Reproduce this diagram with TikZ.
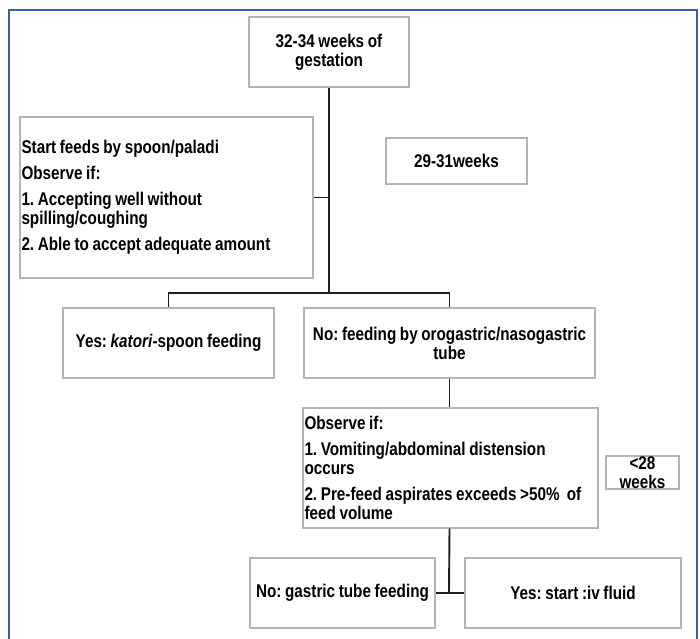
\documentclass[tikz,border=0pt]{standalone}
\usepackage{fontspec}
\setmainfont{Liberation Sans}[FakeStretch=0.83,WordSpace=0.85]
\definecolor{framecol}{HTML}{3B5DAD}
\definecolor{boxcol}{HTML}{B4B4B4}
\definecolor{conncol}{HTML}{1E1E1E}
\frenchspacing
\begin{document}
\begin{tikzpicture}[x=1pt,y=-1pt,
  every node/.style={font=\fontsize{18.4}{19}\selectfont\bfseries},
  box/.style={draw=boxcol,line width=1.1pt,rectangle,inner sep=1pt,align=center},
  lbox/.style={box,align=flush left},
  conn/.style={draw=conncol,line width=1.9pt},
  frame/.style={draw=framecol,line width=1.6pt}]
\useasboundingbox (0,0) rectangle (700,638);
\draw[frame] (9,640) -- (9,10) -- (697,10) -- (697,640);

\node[box,minimum width=160pt,minimum height=70pt] (top) at (329,52) {32-34 weeks of\\gestation};
\node[lbox,minimum width=293pt,minimum height=161pt,text width=290pt] (left) at (166.5,197.5)
  {Start feeds by spoon/paladi\\[7pt]Observe if:\\[7pt]1. Accepting well without\\spilling/coughing\\[7pt]2. Able to accept adequate amount};
\node[box,minimum width=141pt,minimum height=46pt] (w2931) at (456.5,161) {29-31weeks};
\node[box,minimum width=211pt,minimum height=70pt] (yes) at (168.5,343) {Yes: \textit{katori}-spoon feeding};
\node[box,minimum width=291pt,minimum height=70pt] (no) at (449.5,343) {No: feeding by orogastric/nasogastric\\tube};
\node[lbox,minimum width=295pt,minimum height=120pt,text width=292pt] (obs) at (450.5,468)
  {Observe if:\\[7pt]1. Vomiting/abdominal distension\\occurs\\[7pt]2. Pre-feed aspirates exceeds >50\%\ \ of\\feed volume};
\node[draw=boxcol,line width=1.1pt,minimum width=73pt,minimum height=33pt,inner sep=0pt] (lt28box) at (642.5,472.5) {};
\node[align=center,inner sep=0pt] (lt28) at (lt28box.center) {<28\\weeks};
\node[box,minimum width=185pt,minimum height=70pt] (ngast) at (342.5,593) {No: gastric tube feeding};
\node[box,minimum width=216pt,minimum height=70pt] (ystart) at (573,593) {Yes: start :iv fluid};

\coordinate (j1) at (329,293);
\coordinate (j2) at (449,593);
\draw[conn] (top.south) -- (j1);
\draw[conn] (left.east) -- (left.east -| top.south);
\draw[conn] (yes.north) |- (j1) -| (no.north);
\draw[conn] (no.south) -- (no.south |- obs.north);
\draw[conn] (obs.south -| no.south) -- (j2);
\draw[conn] (ngast.east) -- (ystart.west);
\end{tikzpicture}
\end{document}
